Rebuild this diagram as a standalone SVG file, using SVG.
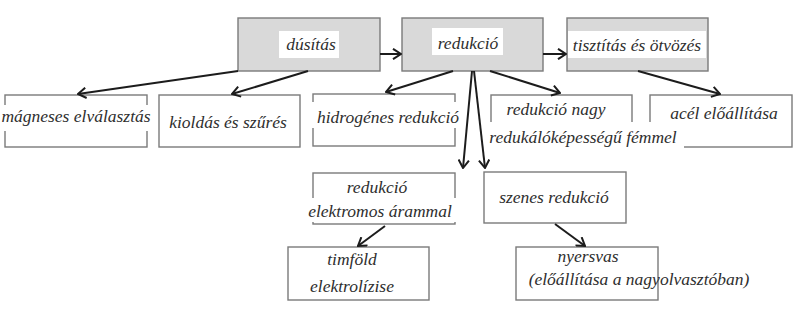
<svg xmlns="http://www.w3.org/2000/svg" width="801" height="329" viewBox="0 0 801 329">
<style>
.box{fill:#ffffff;stroke:#7a7a7a;stroke-width:1.4}
.gbox{fill:#d9d9d9;stroke:#7a7a7a;stroke-width:1.4}
.bg{fill:#ffffff;stroke:none}
text{font-family:"Liberation Serif","Times New Roman",serif;font-style:italic;font-size:17.5px;fill:#2e2e2e;text-anchor:middle}
.c line{stroke:#1c1c1c;stroke-width:2;fill:none;marker-end:url(#ah)}
</style>
<defs>
<marker id="ah" viewBox="0 0 10 12" refX="9" refY="6" markerWidth="10" markerHeight="12" orient="auto" markerUnits="userSpaceOnUse">
<path d="M1,0.8 L9,6 L1,11.2" fill="none" stroke="#1c1c1c" stroke-width="2"/>
</marker>
</defs>
<rect width="801" height="329" fill="#ffffff"/>

<g id="dusitas">
<rect class="gbox" x="238" y="18" width="142" height="53"/>
<rect class="bg" x="279" y="31" width="60" height="27"/>
<text x="311" y="50">dúsítás</text>
</g>
<g id="redukcio">
<rect class="gbox" x="402" y="18" width="141" height="53"/>
<rect class="bg" x="432" y="28" width="71" height="27"/>
<text x="468" y="49">redukció</text>
</g>
<g id="tisztitas">
<rect class="gbox" x="567" y="18" width="141" height="53"/>
<rect class="bg" x="568" y="31" width="138" height="27"/>
<text x="637" y="51">tisztítás és ötvözés</text>
</g>

<g id="magneses">
<rect class="box" x="5" y="95" width="142" height="52"/>
<rect class="bg" x="0" y="105" width="152" height="26"/>
<text x="76" y="122">mágneses elválasztás</text>
</g>
<g id="kioldas">
<rect class="box" x="159" y="95" width="141" height="52"/>
<text x="228" y="128">kioldás és szűrés</text>
</g>
<g id="hidrogenes">
<rect class="box" x="313" y="94" width="142" height="52"/>
<rect class="bg" x="312" y="102" width="151" height="26"/>
<text x="388" y="123">hidrogénes redukció</text>
</g>
<g id="redukcio-nagy">
<rect class="box" x="491" y="95" width="141" height="52"/>
<text x="556" y="115">redukció nagy</text>
</g>
<g id="acel">
<rect class="box" x="650" y="95" width="142" height="52"/>
<text x="724" y="119">acél előállítása</text>
</g>
<g id="redukalo">
<rect class="bg" x="484" y="122" width="200" height="30"/>
<text x="583" y="143">redukálóképességű fémmel</text>
</g>

<g id="elektromos">
<rect class="box" x="313" y="173" width="142" height="51"/>
<rect class="bg" x="300" y="198" width="158" height="24"/>
<text x="377" y="193">redukció</text>
<text x="380" y="217">elektromos árammal</text>
</g>
<g id="szenes">
<rect class="box" x="484" y="172" width="142" height="51"/>
<text x="554" y="203">szenes redukció</text>
</g>
<g id="timfold">
<rect class="box" x="288" y="247" width="141" height="53"/>
<text x="352" y="265">timföld</text>
<text x="352" y="292">elektrolízise</text>
</g>
<g id="nyersvas">
<rect class="box" x="516" y="247" width="142" height="53"/>
<text x="588" y="262">nyersvas</text>
<text x="639" y="285">(előállítása a nagyolvasztóban)</text>
</g>

<g id="connectors" class="c">
<line x1="380" y1="54" x2="401" y2="54"/>
<line x1="543" y1="54" x2="566" y2="54"/>
<line x1="238" y1="71" x2="78" y2="94"/>
<line x1="308" y1="71" x2="232" y2="94"/>
<line x1="453" y1="71" x2="386" y2="92"/>
<line x1="472" y1="71" x2="463" y2="168"/>
<line x1="474" y1="71" x2="485" y2="168"/>
<line x1="490" y1="71" x2="560" y2="93"/>
<line x1="638" y1="71" x2="720" y2="94"/>
<line x1="385" y1="226" x2="358" y2="246"/>
<line x1="555" y1="224" x2="585" y2="246"/>
</g>
</svg>
